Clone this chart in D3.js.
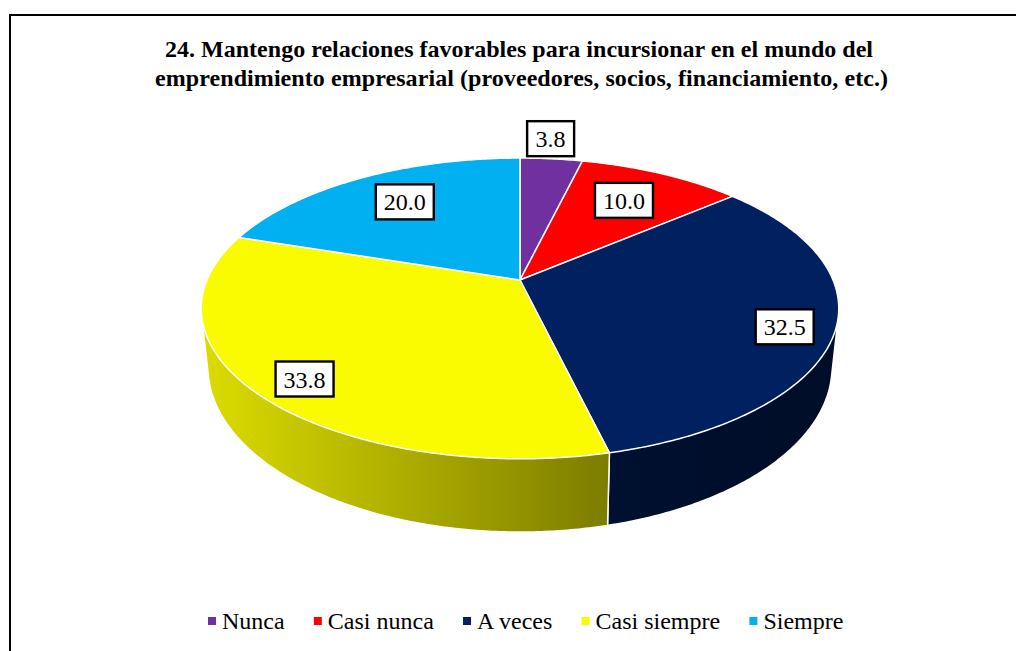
<!DOCTYPE html>
<html>
<head>
<meta charset="utf-8">
<script src="https://cdn.jsdelivr.net/npm/d3@7"></script>
<style>
  html, body { margin: 0; padding: 0; background: #fff; }
  svg { display: block; font-family: "Liberation Serif", serif; }
</style>
</head>
<body>
<svg id="chart" width="1016" height="651"></svg>
<script>
const titleLines = [
  '24. Mantengo relaciones favorables para incursionar en el mundo del',
  'emprendimiento empresarial (proveedores, socios, financiamiento, etc.)'
]
const categories = [ 'Nunca', 'Casi nunca', 'A veces', 'Casi siempre', 'Siempre' ]
const values = [ 3.8, 10.0, 32.5, 33.8, 20.0 ]
const colors = [ '#7030a0', '#ff0000', '#002060', '#fafa00', '#00b0f0' ]
// label nudges away from the default anchor inside each slice, same order as values
const labelNudge = [ [ 7, -50 ], [ -2, 0 ], [ 41, 13 ], [ -33, 21 ], [ 4, -2 ] ]

const svg = d3.select('#chart')
const defs = svg.append('defs')

// frame runs off the right and bottom of the picture
svg.append('path')
  .attr('d', d3.line()([ [ 10, 651 ], [ 10, 15 ], [ 1016, 15 ] ]))
  .attr('fill', 'none')
  .attr('stroke', '#000')
  .attr('stroke-width', 2)

// Times kerning differs a little from Liberation, so pin each line's width
svg.append('g').selectAll('text')
  .data(titleLines)
  .join('text')
  .attr('x', (d, i) => i ? 155 : 165)
  .attr('y', (d, i) => 57 + i * 29)
  .attr('textLength', (d, i) => i ? 733 : 708)
  .attr('font-size', 24)
  .attr('font-weight', 700)
  .text(d => d)

// perspective tilt: a circle in the pie's plane mapped to the screen
const topRim = { x: 520, y: 280, a: 313, b: 145, k: 0.189 }
const bottomRim = { x: 520, y: 336, a: 306.4, b: 159, k: 0.189 }
const project = (rim, angle, r = 1) => {
  const u = r * Math.sin(angle)
  const v = -r * Math.cos(angle)
  const w = 1 - rim.k * v
  return [ rim.x + rim.a * u / w, rim.y + rim.b * v / w ]
}
const rimPoints = (rim, a0, a1) => {
  const n = Math.max(2, Math.ceil((a1 - a0) / 0.01))
  return d3.range(n + 1).map(i => project(rim, a0 + (a1 - a0) * i / n))
}

const slices = d3.pie().sort(null).startAngle(0).endAngle(2 * Math.PI)(values)
const line = d3.line()

// side wall shading goes by screen x
const shade = d3.scaleLinear().domain([ 203, 607, 838 ]).range([ 0.88, 0.5, 0.42 ])
const wallStops = [ 203, 607, 838 ]
slices.forEach((s, i) => {
  const c = d3.color(colors[i])
  const grad = defs.append('linearGradient')
    .attr('id', `wall${i}`)
    .attr('gradientUnits', 'userSpaceOnUse')
    .attr('x1', 203).attr('x2', 838).attr('y1', 0).attr('y2', 0)
  wallStops.forEach(x => {
    grad.append('stop')
      .attr('offset', (x - 203) / (838 - 203))
      .attr('stop-color', d3.rgb(c.r * shade(x), c.g * shade(x), c.b * shade(x)))
  })
})

// hull gives the straight tangent edges at the far left and right, top face hides the rest
svg.append('g').selectAll('path')
  .data(slices)
  .join('path')
  .attr('d', s => line(d3.polygonHull(rimPoints(topRim, s.startAngle, s.endAngle)
    .concat(rimPoints(bottomRim, s.startAngle, s.endAngle)))) + 'Z')
  .attr('fill', (s, i) => `url(#wall${i})`)
  .attr('stroke', '#fff')
  .attr('stroke-width', 1.5)
  .attr('stroke-linejoin', 'round')

svg.append('g').selectAll('path')
  .data(slices)
  .join('path')
  .attr('d', s => line([ [ topRim.x, topRim.y ] ].concat(rimPoints(topRim, s.startAngle, s.endAngle))) + 'Z')
  .attr('fill', (s, i) => colors[i])
  .attr('stroke', '#fff')
  .attr('stroke-width', 1.5)
  .attr('stroke-linejoin', 'round')

const labels = svg.append('g').selectAll('g')
  .data(slices)
  .join('g')
  .attr('transform', (s, i) => {
    const [ x, y ] = project(topRim, (s.startAngle + s.endAngle) / 2, 0.72)
    return `translate(${x + labelNudge[i][0]},${y + labelNudge[i][1]})`
  })

labels.append('rect')
  .attr('x', (s, i) => i === 0 ? -23.5 : -29)
  .attr('y', -17.5)
  .attr('width', (s, i) => i === 0 ? 47 : 58)
  .attr('height', 35)
  .attr('fill', '#fff')
  .attr('stroke', '#000')
  .attr('stroke-width', 2.4)

labels.append('text')
  .attr('text-anchor', 'middle')
  .attr('y', 8.5)
  .attr('font-size', 24)
  .text(s => s.value.toFixed(1))

// legend laid out left to right from measured text widths
const legend = svg.append('g')
let legendX = 208
categories.forEach((name, i) => {
  legend.append('rect')
    .attr('x', legendX)
    .attr('y', 617)
    .attr('width', 8)
    .attr('height', 8)
    .attr('fill', colors[i])
  const t = legend.append('text')
    .attr('x', legendX + 14)
    .attr('y', 629)
    .attr('font-size', 24)
    .text(name)
  legendX += 14 + t.node().getComputedTextLength() + 29.2
})
</script>
</body>
</html>
